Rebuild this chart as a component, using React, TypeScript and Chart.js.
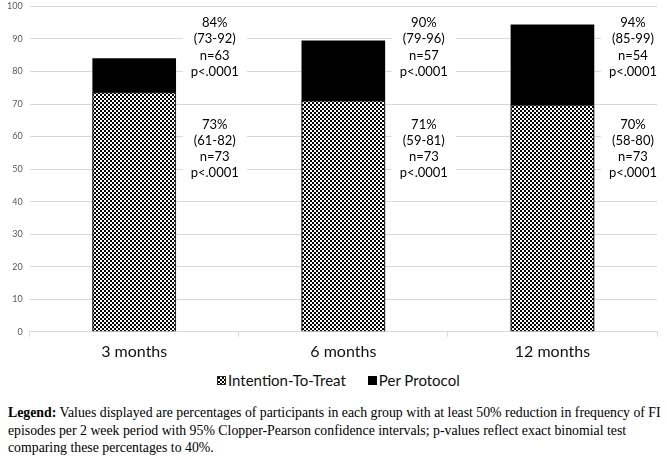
import React, { useEffect, useRef, useState } from "react";
import { Chart, registerables } from "chart.js";

Chart.register(...registerables);

const categories = ["3 months", "6 months", "12 months"];
const ittValues = [73.6, 71.1, 69.8];
const ppValues = [84.1, 89.5, 94.4];
const ittLabels = [
  ["73%", "(61-82)", "n=73", "p<.0001"],
  ["71%", "(59-81)", "n=73", "p<.0001"],
  ["70%", "(58-80)", "n=73", "p<.0001"],
];
const ppLabels = [
  ["84%", "(73-92)", "n=63", "p<.0001"],
  ["90%", "(79-96)", "n=57", "p<.0001"],
  ["94%", "(85-99)", "n=54", "p<.0001"],
];
const seriesNames = ["Intention-To-Treat", "Per Protocol"];

const FONT = "Lato";

function makePatternCanvas(): HTMLCanvasElement {
  const c = document.createElement("canvas");
  c.width = 4;
  c.height = 4;
  const g = c.getContext("2d");
  if (g) {
    g.fillStyle = "#ffffff";
    g.fillRect(0, 0, 4, 4);
    g.fillStyle = "#000000";
    g.fillRect(0, 0, 2, 2);
    g.fillRect(2, 2, 2, 2);
  }
  return c;
}

const annotationPlugin = {
  id: "barNotes",
  afterDatasetsDraw(chart: any) {
    const { ctx, scales } = chart;
    const x = scales.x;
    const y = scales.y;
    ctx.save();
    ctx.font = `13px ${FONT}`;
    ctx.textAlign = "center";
    ctx.textBaseline = "middle";
    const lh = 16.2;
    const step = x.getPixelForValue(1) - x.getPixelForValue(0);
    const off = step * 0.385;
    const draw = (lines: string[], cx: number, cyVal: number) => {
      const cy = y.getPixelForValue(cyVal);
      const w = Math.max(...lines.map((l) => ctx.measureText(l).width)) + 16;
      const h = lines.length * lh;
      ctx.fillStyle = "#ffffff";
      ctx.fillRect(cx - w / 2, cy - h / 2, w, h);
      ctx.fillStyle = "#000000";
      lines.forEach((l, i) => ctx.fillText(l, cx, cy - h / 2 + lh / 2 + i * lh));
    };
    categories.forEach((_, i) => {
      const cx = x.getPixelForValue(i) + off;
      draw(ppLabels[i], cx, 87.4);
      draw(ittLabels[i], cx, 56.2);
    });
    ctx.restore();
  },
};

export default function App() {
  const ref = useRef<HTMLCanvasElement | null>(null);
  const [swatch, setSwatch] = useState<string>("");

  useEffect(() => {
    document.body.style.margin = "0";
    const canvas = ref.current;
    if (!canvas) return;
    const pc = makePatternCanvas();
    setSwatch(pc.toDataURL());
    const pattern = canvas.getContext("2d")?.createPattern(pc, "repeat") || "#888";
    const chart = new Chart(canvas, {
      type: "bar",
      data: {
        labels: categories,
        datasets: [
          {
            label: seriesNames[0],
            data: ittValues,
            backgroundColor: pattern as any,
            borderColor: "#262626",
            borderWidth: 1,
            grouped: false,
            categoryPercentage: 1,
            barPercentage: 0.4,
          } as any,
          {
            label: seriesNames[1],
            data: ppValues,
            backgroundColor: "#000000",
            borderColor: "#000000",
            borderWidth: 0,
            grouped: false,
            categoryPercentage: 1,
            barPercentage: 0.4,
          } as any,
        ],
      },
      options: {
        responsive: false,
        maintainAspectRatio: false,
        animation: false,
        layout: { padding: { left: 0, right: 10, top: 0, bottom: 0 } },
        plugins: {
          tooltip: { enabled: false },
          legend: { display: false },
        },
        scales: {
          x: {
            grid: {
              offset: true,
              drawOnChartArea: false,
              drawTicks: true,
              tickLength: 5,
              color: "#d9d9d9",
            },
            border: { color: "#d9d9d9" },
            ticks: {
              font: { family: FONT, size: 16 },
              color: "#111111",
              padding: 5,
            },
          },
          y: {
            min: 0,
            max: 100,
            ticks: {
              stepSize: 10,
              font: { family: FONT, size: 9 },
              color: "#595959",
              padding: 7,
            },
            grid: { color: "#d9d9d9", drawTicks: false },
            border: { display: false },
          },
        },
      },
      plugins: [annotationPlugin],
    });
    return () => chart.destroy();
  }, []);

  const box = { display: "inline-block", width: 9, height: 9, boxSizing: "border-box" as const };

  return (
    <div style={{ position: "relative", width: 667, height: 460, background: "#fff", overflow: "hidden" }}>
      <canvas
        ref={ref}
        width={667}
        height={372}
        style={{ display: "block", position: "absolute", left: 0, top: -6 }}
      />
      <div
        style={{
          position: "absolute",
          top: 371,
          left: 217,
          height: 18,
          display: "flex",
          alignItems: "center",
          fontFamily: FONT,
          fontSize: 15,
          color: "#111",
          whiteSpace: "nowrap",
        }}
      >
        <span
          style={{
            ...box,
            border: "1px solid #262626",
            backgroundImage: swatch ? `url(${swatch})` : undefined,
            backgroundColor: "#888",
          }}
        />
        <span style={{ marginLeft: 2 }}>{seriesNames[0]}</span>
        <span style={{ ...box, background: "#000", marginLeft: 22 }} />
        <span style={{ marginLeft: 2 }}>{seriesNames[1]}</span>
      </div>
      <div
        style={{
          position: "absolute",
          left: 8,
          top: 404,
          fontFamily: "'Liberation Serif', 'Times New Roman', serif",
          fontSize: 13.8,
          lineHeight: "17.5px",
          color: "#000",
          whiteSpace: "nowrap",
        }}
      >
        <b>Legend:</b> Values displayed are percentages of participants in each group with at least 50% reduction in frequency of FI
        <br />
        episodes per 2 week period with 95% Clopper-Pearson confidence intervals; p-values reflect exact binomial test
        <br />
        comparing these percentages to 40%.
      </div>
    </div>
  );
}
